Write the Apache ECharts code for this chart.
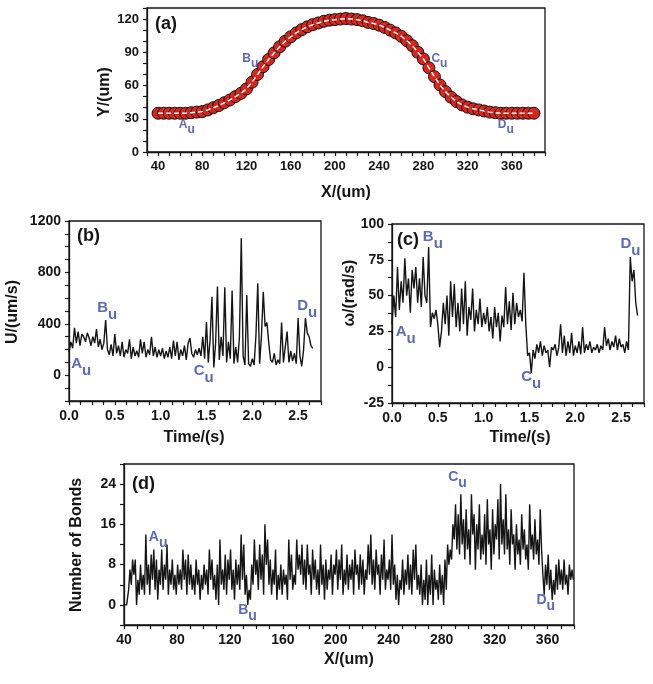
<!DOCTYPE html>
<html><head><meta charset="utf-8">
<script src="https://cdn.jsdelivr.net/npm/echarts/dist/echarts.min.js"></script>
<style>html,body{margin:0;padding:0;background:#fff}#c{width:653px;height:684px}</style>
</head><body><div id="c"></div>
<script>
// ---------- Panel (a): cell trajectory ----------
const aX = [40,45,50,55,60,65,70,75,80,85,90,95,100,105,110,115,120,125,130,135,140,145,150,155,160,165,170,175,180,185,190,195,200,205,210,215,220,225,230,235,240,245,250,255,260,265,270,275,280,285,290,295,300,305,310,315,320,325,330,335,340,345,350,355,360,365,370,375,380];
const aY = [35,35,35,35,35,35,35.5,36,36.5,38,40,42,44.5,47,50,53,57,63,70,77,83.5,89.5,95,100,104,107.5,110.5,113,115,116.5,118,119,119.5,120,120.5,120,119.5,118.5,117,116,114.5,112.5,110,107.5,104.5,100.5,96,90,84,76,68,60.5,54.5,49.5,45.5,42.5,40.5,39,38,37,36,35.5,35,35,35,35,35,35,35];
const annA = [['A',66,22],['B',123.5,81.7],['C',294.5,81.7],['D',354.5,22.6]];

// ---------- Panel (b): U vs time ----------
const bDt = 0.02;
const bU = [180,260,210,370,250,340,230,320,300,260,330,290,230,300,250,360,220,280,200,250,
430,200,160,240,150,320,170,230,150,260,140,200,170,280,130,220,150,190,140,280,
170,260,140,200,160,300,150,220,140,200,150,210,130,190,140,220,130,270,150,260,
120,200,150,230,120,250,290,170,140,200,160,210,150,300,130,415,100,280,610,60,
250,690,120,300,150,685,100,260,130,660,90,220,100,300,1065,150,80,625,90,70,
130,80,310,715,90,300,650,380,410,250,120,100,170,80,120,90,410,100,90,340,
100,190,110,170,90,445,150,70,200,445,330,300,230,210];
const annB = [['A',0.134,60],['B',0.417,501],['C',1.47,5],['D',2.60,516]];

// ---------- Panel (c): omega vs time ----------
const cDt = 0.02;
const cW = [30,50,35,70,40,60,45,76,50,62,38,68,55,70,45,62,42,77,50,45,
84,28,38,34,40,30,14,25,45,30,50,22,60,35,58,28,45,25,55,30,
60,22,42,33,55,25,40,30,48,28,38,30,42,25,35,20,42,28,38,18,
36,28,56,30,46,26,52,30,45,35,40,32,66,30,8,10,-4,12,6,16,
10,18,8,15,10,12,0,14,12,16,8,14,30,10,22,8,18,10,24,8,
15,10,18,9,28,10,16,12,18,10,14,12,16,10,15,12,28,15,20,12,
18,14,22,12,20,14,16,10,18,12,77,60,68,45,36];
const annC = [['A',0.149,22.3],['B',0.446,88.6],['C',1.52,-9],['D',2.603,83.8]];

// ---------- Panel (d): number of bonds vs X ----------
const dX0 = 40, dStep = 1;
const dBonds = [0,0,0,1,3,7,4,9,6,9, 0,5,2,8,3,6,2,14,4,8, 2,10,5,11,3,9,1,7,4,11, 3,8,5,12,2,7,4,9,3,6,
2,8,4,7,3,11,5,9,2,10, 4,8,3,6,2,9,4,7,1,6, 3,8,4,7,2,11,5,9,3,6, 1,8,0,13,4,7,3,10,2,9,
5,11,3,7,1,9,4,8,3,14, 5,12,2,6,0,3,1,8,4,13, 6,9,3,12,5,10,2,16,8,13, 4,9,2,7,4,11,1,6,3,8,
2,7,4,6,1,13,5,10,3,6, 4,13,7,10,6,12,4,9,3,12, 6,8,2,11,5,9,3,7,2,12, 4,8,1,9,3,7,5,10,2,8,
6,11,3,9,5,12,2,7,4,10, 3,8,5,9,2,11,6,8,3,10, 4,9,2,7,5,12,6,14,4,9, 3,11,6,8,2,10,5,13,3,7,
5,9,3,14,4,8,1,6,0,5, 3,9,2,7,4,10,3,8,2,11, 5,12,3,6,2,8,0,5,1,9, 0,6,2,10,0,7,3,5,1,8,
2,6,0,9,3,12,8,11,9,16, 13,20,11,18,10,22,12,17,9,19, 11,15,8,22,14,18,7,16,11,20, 9,14,10,18,8,21,12,15,7,19,
10,16,13,21,9,24,12,17,10,22, 11,15,8,19,12,14,7,16,10,13, 8,18,11,15,9,12,7,20,11,14, 9,17,10,13,8,19,11,6,2,8,
4,10,3,7,1,5,2,8,3,9, 4,7,3,9,4,6,2,8,5,7, 5];
const annD = [['A',65.8,12.9],['B',133.3,-1.6],['C',292,24.8],['D',358.7,0.4]];

// ---------- helpers ----------
const FONT = 'Liberation Sans, Arial, sans-serif';
const BLUE = '#3243a8';
const INK = '#151515';
function mult(v, m) { const r = v / m; return Math.abs(r - Math.round(r)) < 1e-6; }
function axis(gi, min, max, step, labEvery, fs, fmt, lowest) {
  return {
    type: 'value', gridIndex: gi, min: min, max: max, interval: step,
    axisLine: { show: true, onZero: false, lineStyle: { color: INK, width: 1.3 } },
    axisTick: { show: true, inside: false, length: 4, lineStyle: { color: INK, width: 1.2 } },
    splitLine: { show: false },
    axisLabel: {
      show: true, margin: 8, color: INK, fontSize: fs, fontWeight: 'bold', fontFamily: FONT,
      showMinLabel: true, showMaxLabel: true,
      formatter: function (v) { return (mult(v, labEvery) && v >= lowest) ? fmt(v) : ''; }
    }
  };
}
const intFmt = v => String(Math.round(v));
const dec1 = v => v.toFixed(1);
function annSeries(arr, xi, yi, fs) {
  return {
    type: 'scatter', xAxisIndex: xi, yAxisIndex: yi, symbolSize: 1, z: 10,
    itemStyle: { color: 'transparent' }, silent: true,
    data: arr.map(a => ({ name: a[0], value: [a[1], a[2]] })),
    label: {
      show: true, position: 'inside',
      formatter: p => '{m|' + p.name + '}{s|u}',
      rich: {
        m: { fontSize: fs, fontWeight: 'bold', color: BLUE, fontFamily: FONT, lineHeight: fs, verticalAlign: 'top' },
        s: { fontSize: fs, fontWeight: 'bold', color: BLUE, fontFamily: FONT, lineHeight: fs + Math.round(fs * 0.45), verticalAlign: 'bottom' }
      }
    }
  };
}
function title(text, x, y, rot, fs) {
  return { type: 'text', x: x, y: y, rotation: rot, z: 20,
    style: { text: text, fill: INK, font: 'bold ' + fs + 'px ' + FONT, textAlign: 'center', textVerticalAlign: 'middle' } };
}
function tag(text, x, y) {
  return { type: 'text', x: x, y: y, z: 20,
    style: { text: text, fill: INK, font: 'bold 18px ' + FONT, textAlign: 'left', textVerticalAlign: 'middle' } };
}

const gridStyle = { show: true, borderColor: INK, borderWidth: 1.3, backgroundColor: 'transparent', containLabel: false };
const option = {
  animation: false,
  backgroundColor: '#fff',
  grid: [
    Object.assign({ left: 147, top: 8, width: 398, height: 144 }, gridStyle),
    Object.assign({ left: 69, top: 221, width: 252, height: 180 }, gridStyle),
    Object.assign({ left: 392, top: 224, width: 252, height: 179 }, gridStyle),
    Object.assign({ left: 124, top: 464, width: 450, height: 161 }, gridStyle)
  ],
  xAxis: [
    axis(0, 30, 390, 10, 40, 13, intFmt, 40),
    axis(1, 0, 2.75, 0.125, 0.5, 14, dec1, 0),
    axis(2, 0, 2.75, 0.125, 0.5, 14, dec1, 0),
    axis(3, 40, 380, 10, 40, 14, intFmt, 40)
  ],
  yAxis: [
    axis(0, 0, 130, 10, 30, 13, intFmt, 0),
    axis(1, -200, 1200, 100, 400, 14, intFmt, 0),
    axis(2, -25, 100, 12.5, 25, 14, intFmt, -25),
    axis(3, -4, 28, 4, 8, 14, intFmt, 0)
  ],
  series: [
    { type: 'scatter', xAxisIndex: 0, yAxisIndex: 0, symbol: 'circle', symbolSize: 12, z: 2,
      itemStyle: { color: '#d8261c', borderColor: '#111', borderWidth: 1, opacity: 1 },
      data: aX.map((x, i) => [x, aY[i]]) },
    { type: 'line', xAxisIndex: 0, yAxisIndex: 0, showSymbol: false, z: 3, smooth: false,
      lineStyle: { color: '#ffffff', width: 1.5, type: [5, 3] },
      data: aX.map((x, i) => [x, aY[i]]) },
    { type: 'line', xAxisIndex: 1, yAxisIndex: 1, showSymbol: false, z: 3,
      lineStyle: { color: INK, width: 1.4 },
      data: bU.map((v, i) => [i * bDt, v]) },
    { type: 'line', xAxisIndex: 2, yAxisIndex: 2, showSymbol: false, z: 3,
      lineStyle: { color: INK, width: 1.4 },
      data: cW.map((v, i) => [i * cDt, v]) },
    { type: 'line', xAxisIndex: 3, yAxisIndex: 3, showSymbol: false, z: 3, step: 'middle',
      lineStyle: { color: INK, width: 1.4 },
      data: dBonds.map((v, i) => [dX0 + i * dStep, v]) },
    annSeries(annA, 0, 0, 12),
    annSeries(annB, 1, 1, 15),
    annSeries(annC, 2, 2, 15),
    annSeries(annD, 3, 3, 14)
  ],
  graphic: [
    title('Y/(um)', 105, 92, Math.PI / 2, 16),
    title('X/(um)', 346, 193, 0, 16),
    title('U/(um/s)', 13, 312, Math.PI / 2, 16),
    title('Time/(s)', 194, 438, 0, 16),
    title('ω/(rad/s)', 350, 293, Math.PI / 2, 16),
    title('Time/(s)', 520, 438, 0, 16),
    title('Number of Bonds', 77, 545, Math.PI / 2, 16),
    title('X/(um)', 349, 660, 0, 16),
    tag('(a)', 155, 24),
    tag('(b)', 77, 236),
    tag('(c)', 397, 240),
    tag('(d)', 132, 484)
  ]
};
const chart = echarts.init(document.getElementById('c'), null, { renderer: 'canvas' });
chart.setOption(option);
</script>
</body></html>
